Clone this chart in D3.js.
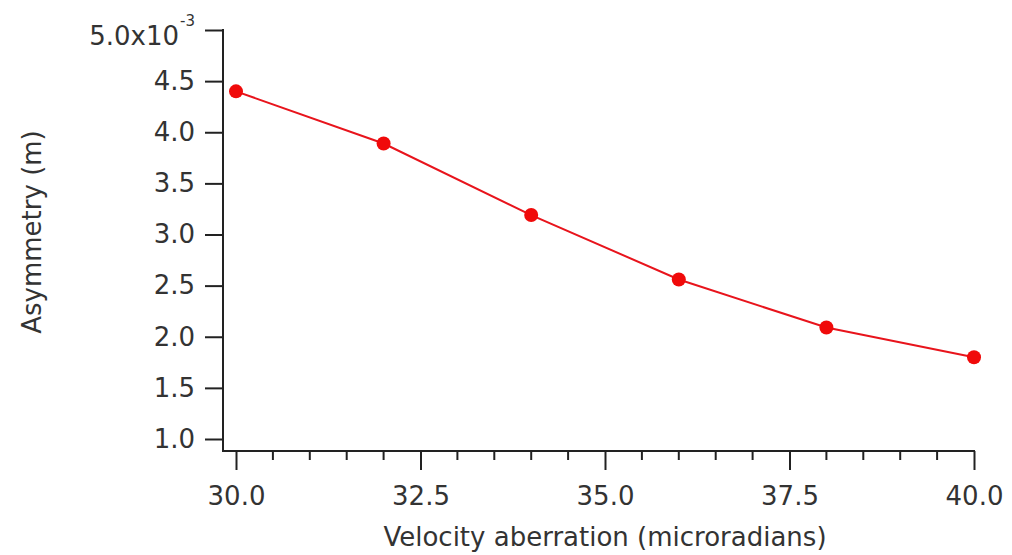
<!DOCTYPE html>
<html><head><meta charset="utf-8">
<script src="https://cdn.jsdelivr.net/npm/d3@7"></script>
<style>body{margin:0;background:#fff}svg{display:block}</style>
</head><body>
<svg id="c" width="1012" height="555"></svg>
<script>
const xValues = [30, 32, 34, 36, 38, 40];
const asymmetry = [4.40, 3.89, 3.19, 2.56, 2.09, 1.80]; // x10^-3 m
const yTicks = [1.0, 1.5, 2.0, 2.5, 3.0, 3.5, 4.0, 4.5, 5.0];
const xTicks = [30.0, 32.5, 35.0, 37.5, 40.0];
const xMinorTicks = d3.range(30, 40.001, 0.5);
const xTitle = "Velocity aberration (microradians)";
const yTitle = "Asymmetry (m)";

const svg = d3.select("#c");
const font = "DejaVu Sans, Verdana, sans-serif";
const fs = "26px";
const ink = "#222";
const x = d3.scaleLinear().domain([30, 40]).range([236, 974]);
const y = d3.scaleLinear().domain([1, 5]).range([439, 30]);
const axisY = 223, axisX = 451;

// x axis
const gx = svg.append("g").attr("transform", `translate(0,${axisX})`);
gx.append("line").attr("x1", axisY).attr("x2", x(40) + 1).attr("stroke", ink).attr("stroke-width", 2);
gx.selectAll(".minor").data(xMinorTicks.filter(v => !xTicks.some(t => Math.abs(t - v) < 1e-6)))
  .enter().append("line").attr("x1", d => x(d)).attr("x2", d => x(d)).attr("y1", 0).attr("y2", 9)
  .attr("stroke", ink).attr("stroke-width", 2);
const xa = d3.axisBottom(x).tickValues(xTicks).tickFormat(d3.format(".1f")).tickSize(19).tickPadding(17);
const gxa = svg.append("g").attr("transform", `translate(0,${axisX})`).call(xa);
gxa.select(".domain").remove();
gxa.selectAll(".tick line").attr("stroke", ink).attr("stroke-width", 2);
gxa.selectAll(".tick text").attr("fill", "#333").style("font-family", font).style("font-size", fs);

// y axis
svg.append("line").attr("x1", axisY).attr("x2", axisY).attr("y1", y(5) - 1).attr("y2", axisX + 1)
  .attr("stroke", ink).attr("stroke-width", 2);
const ya = d3.axisLeft(y).tickValues(yTicks).tickFormat(d => d === 5 ? "" : d3.format(".1f")(d)).tickSize(18).tickPadding(10);
const gya = svg.append("g").attr("transform", `translate(${axisY},0)`).call(ya);
gya.select(".domain").remove();
gya.selectAll(".tick line").attr("stroke", ink).attr("stroke-width", 2);
gya.selectAll(".tick text").attr("fill", "#333").style("font-family", font).style("font-size", fs);
// top label with exponent
svg.append("text").attr("x", 179).attr("y", y(5) + 15).attr("text-anchor", "end")
  .attr("fill", "#333").style("font-family", font).style("font-size", fs).text("5.0x10");
svg.append("text").attr("x", 180).attr("y", y(5) - 4)
  .attr("fill", "#333").style("font-family", font).style("font-size", "15px").text("-3");

// titles
svg.append("text").attr("x", 605).attr("y", 546).attr("text-anchor", "middle")
  .attr("fill", "#333").style("font-family", font).style("font-size", fs).text(xTitle);
svg.append("text").attr("transform", `translate(41,${232}) rotate(-90)`).attr("text-anchor", "middle")
  .attr("fill", "#333").style("font-family", font).style("font-size", fs).text(yTitle);

// data
const data = xValues.map((v, i) => [v, asymmetry[i]]);
svg.append("path").datum(data).attr("fill", "none").attr("stroke", "#e8141c").attr("stroke-width", 2)
  .attr("d", d3.line().x(d => x(d[0])).y(d => y(d[1])));
svg.selectAll(".pt").data(data).enter().append("circle")
  .attr("cx", d => x(d[0])).attr("cy", d => y(d[1])).attr("r", 7).attr("fill", "#f00a0a");
</script>
</body></html>
